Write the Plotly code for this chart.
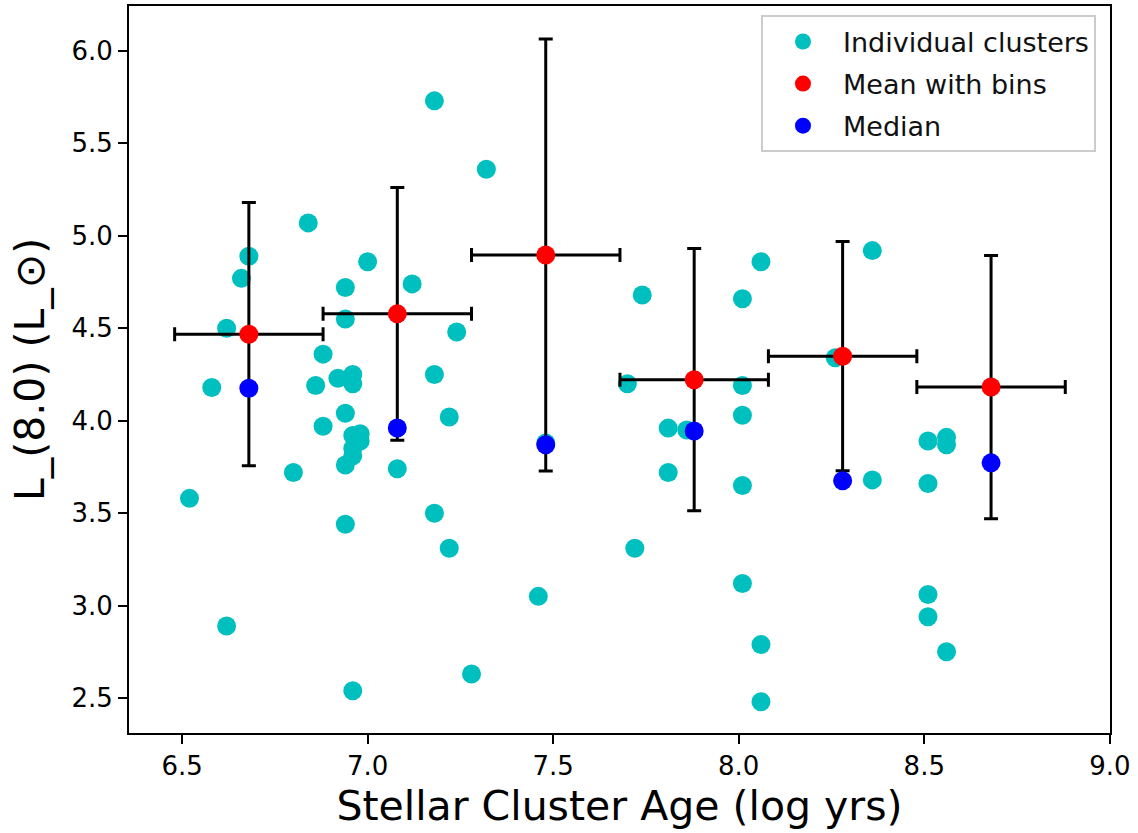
import plotly.graph_objects as go

# Individual clusters
age = [6.52, 6.58, 6.62, 6.62, 6.66, 6.68, 6.80, 6.84, 6.86, 6.88, 6.88, 6.92,
       6.94, 6.94, 6.94, 6.94, 6.94, 6.96, 6.96, 6.96, 6.96, 6.98, 6.98, 6.96,
       6.96, 7.00, 7.08, 7.12, 7.18, 7.18, 7.18, 7.22, 7.22, 7.24, 7.28, 7.32,
       7.46, 7.48, 7.70, 7.72, 7.74, 7.81, 7.81, 7.86, 8.01, 8.01, 8.01, 8.01,
       8.01, 8.06, 8.06, 8.06, 8.26, 8.36, 8.36, 8.51, 8.51, 8.51, 8.51, 8.56,
       8.56, 8.56]
lum = [3.58, 4.18, 4.50, 2.89, 4.77, 4.89, 3.72, 5.07, 4.19, 4.36, 3.97, 4.23,
       4.72, 4.55, 4.04, 3.76, 3.44, 4.25, 4.20, 3.92, 3.81, 3.89, 3.93, 3.85,
       2.54, 4.86, 3.74, 4.74, 5.73, 4.25, 3.50, 4.02, 3.31, 4.48, 2.63, 5.36,
       3.05, 3.88, 4.20, 3.31, 4.68, 3.96, 3.72, 3.95, 4.66, 4.19, 4.03, 3.65,
       3.12, 4.86, 2.79, 2.48, 4.34, 4.92, 3.68, 3.89, 3.66, 3.06, 2.94, 3.91,
       3.87, 2.75]

# Binned statistics
bin_center = [6.68, 7.08, 7.48, 7.88, 8.28, 8.68]
bin_halfwidth = [0.2, 0.2, 0.2, 0.2, 0.2, 0.2]
bin_mean = [4.468, 4.578, 4.896, 4.222, 4.349, 4.182]
bin_err = [0.712, 0.683, 1.168, 0.709, 0.620, 0.712]
bin_median = [4.176, 3.961, 3.870, 3.944, 3.675, 3.772]

xticks = [6.5, 7.0, 7.5, 8.0, 8.5, 9.0]
yticks = [2.5, 3.0, 3.5, 4.0, 4.5, 5.0, 5.5, 6.0]

FONT = "DejaVu Sans"
MS = 19

fig = go.Figure()
fig.add_trace(go.Scatter(
    x=age, y=lum, mode="markers", name="Individual clusters",
    marker=dict(color="#00bfbf", size=MS, line=dict(width=0)),
    legendgroup="a",
))
fig.add_trace(go.Scatter(
    x=bin_center, y=bin_mean, mode="markers", name="Mean with bins",
    marker=dict(color="#ff0000", size=MS, line=dict(width=0)),
    error_y=dict(type="data", array=bin_err, color="black", thickness=3, width=7),
    error_x=dict(type="data", array=bin_halfwidth, color="black", thickness=3,
                 width=7, copy_ystyle=False),
    legendgroup="b",
))
fig.add_trace(go.Scatter(
    x=bin_center, y=bin_median, mode="markers", name="Median",
    marker=dict(color="#0000ff", size=MS, line=dict(width=0)),
    legendgroup="c",
))

axis_common = dict(
    showgrid=False, zeroline=False, showline=True, linecolor="black",
    linewidth=2, mirror=True, ticks="outside", ticklen=9, tickwidth=2,
    tickcolor="black", tickfont=dict(family=FONT, size=26, color="black"),
)

fig.update_layout(
    width=1138, height=833,
    margin=dict(l=129, r=28, t=4, b=100),
    paper_bgcolor="white", plot_bgcolor="white",
    font=dict(family=FONT, color="black"),
    showlegend=True,
    legend=dict(
        x=0.9857, y=0.987, xanchor="right", yanchor="top",
        bgcolor="rgba(255,255,255,0.8)", bordercolor="#cccccc", borderwidth=2,
        font=dict(family=FONT, size=27, color="#111111"),
        traceorder="grouped", tracegroupgap=4, itemwidth=70,
    ),
    xaxis=dict(
        range=[6.357, 9.0005], tickvals=xticks,
        ticktext=[f"{v:.1f}" for v in xticks],
        title=dict(text="Stellar Cluster Age (log yrs)",
                   font=dict(family=FONT, size=41, color="black"), standoff=11),
        **axis_common,
    ),
    yaxis=dict(
        range=[2.311, 6.243], tickvals=yticks,
        ticktext=[f"{v:.1f}" for v in yticks],
        title=dict(text="L_(8.0) (L_⊙)",
                   font=dict(family=FONT, size=41, color="black"), standoff=14),
        **axis_common,
    ),
)

fig.write_html("out.html")
